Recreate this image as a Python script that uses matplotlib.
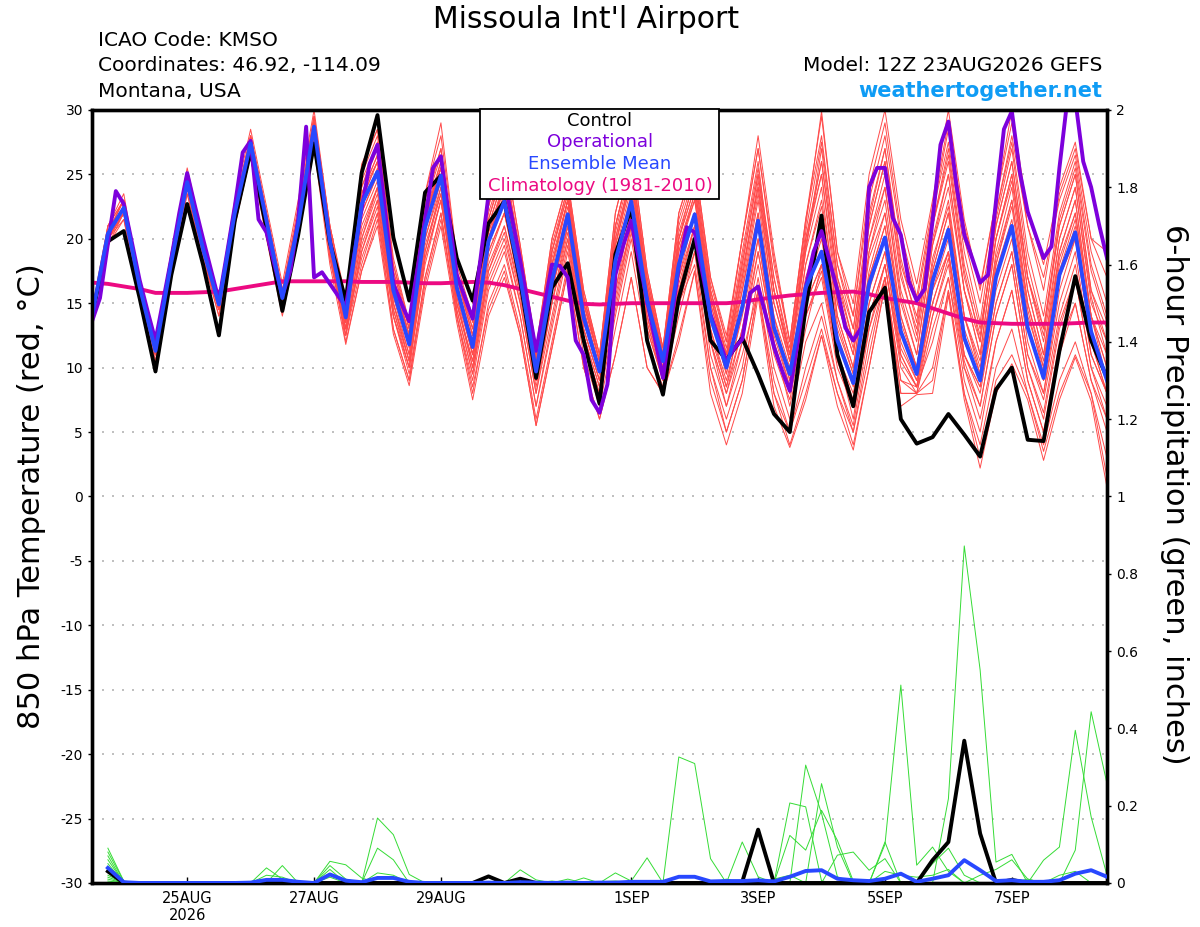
import matplotlib
matplotlib.use("Agg")
import matplotlib.pyplot as plt
from matplotlib.patches import Rectangle
import numpy as np

plt.rcParams['font.family'] = ['DejaVu Sans']
plt.rcParams['axes.unicode_minus'] = False

# forecast hours from 12Z 23AUG2026 (6-hourly for GEFS, 3-hourly for operational)
hours = np.arange(0, 385, 6)
op_hours = np.arange(0, 385, 3)

tick_hours = [36, 84, 132, 204, 252, 300, 348]
tick_labels = ['25AUG\n2026', '27AUG', '29AUG', '1SEP', '3SEP', '5SEP', '7SEP']

# 850 hPa temperature (C)
ens_mean = [14.0, 20.4, 22.4, 16.3, 11.3, 18.2, 24.4, 19.2, 14.9, 22.0, 27.4, 21.4, 15.4,
            21.1, 28.7, 19.8, 13.9, 22.7, 25.2, 16.0, 11.8, 20.9, 24.9, 16.2, 11.6,
            19.8, 22.9, 17.0, 9.7, 16.7, 21.9, 13.9, 9.7, 18.3, 22.9, 15.2, 10.5,
            18.0, 21.9, 13.9, 10.0, 14.7, 21.4, 13.1, 9.5, 16.2, 19.0, 12.1, 8.8,
            16.5, 20.1, 12.8, 9.5, 16.7, 20.7, 12.3, 9.0, 17.0, 21.0, 13.1, 9.2, 17.2, 20.5, 12.8, 9.0]

control = [14.0, 19.8, 20.6, 15.4, 9.7, 17.2, 22.7, 18.0, 12.5, 21.4, 26.8, 20.8, 14.4,
           20.3, 27.4, 19.7, 15.2, 25.1, 29.6, 20.1, 15.2, 23.6, 24.9, 18.5, 15.2,
           21.2, 22.9, 16.7, 9.2, 16.2, 18.1, 12.1, 7.2, 18.8, 22.4, 12.1, 7.9,
           15.4, 20.0, 12.1, 10.6, 12.3, 9.5, 6.4, 5.0, 14.7, 21.8, 11.0, 7.0,
           14.3, 16.2, 6.0, 4.1, 4.6, 6.4, 4.8, 3.1, 8.3, 10.0, 4.4, 4.3, 11.3, 17.1, 12.1, 9.2]

operational = [13.6, 15.4, 19.6, 23.7, 22.7, 19.8, 16.8, 14.4, 12.1, 15.3, 18.5, 22.0, 25.1,
               22.5, 20.0, 17.6, 15.2, 18.8, 22.5, 26.7, 27.6, 21.5, 20.5, 18.0, 15.6,
               17.5, 21.5, 28.7, 17.0, 17.4, 16.5, 15.6, 14.7, 18.5, 22.3, 25.8, 27.3,
               21.9, 16.5, 15.0, 13.6, 17.5, 21.5, 25.5, 26.4, 21.8, 17.2, 15.5, 13.8,
               18.5, 23.4, 24.5, 24.5, 21.5, 18.3, 14.8, 11.3, 14.6, 18.0, 17.9, 17.0,
               12.1, 11.0, 7.5, 6.5, 8.7, 17.2, 19.5, 21.4, 18.3, 15.2, 12.2, 9.2,
               13.5, 17.8, 20.9, 20.5, 17.3, 14.1, 12.3, 10.5, 11.5, 12.2, 15.8, 16.3,
               14.0, 11.6, 9.8, 8.2, 12.0, 16.2, 19.0, 20.6, 18.3, 16.0, 13.1, 12.1,
               13.1, 24.0, 25.5, 25.5, 21.6, 20.3, 16.7, 15.2, 16.1, 21.4, 27.3, 29.1,
               24.2, 20.3, 18.5, 16.6, 17.2, 22.9, 28.5, 29.9, 25.2, 22.1, 20.3, 18.5,
               19.4, 25.5, 30.8, 30.8, 26.0, 24.0, 21.1, 18.5]

climatology = [16.6, 16.5, 16.3, 16.1, 15.8, 15.8, 15.8, 15.85, 15.9, 16.1, 16.3, 16.5, 16.7,
               16.7, 16.7, 16.7, 16.7, 16.65, 16.65, 16.65, 16.6, 16.55, 16.55, 16.6, 16.65,
               16.6, 16.4, 16.1, 15.8, 15.5, 15.2, 14.95, 14.9, 14.95, 15.0, 15.0, 15.0,
               15.0, 15.0, 15.0, 15.0, 15.1, 15.3, 15.45, 15.6, 15.7, 15.8, 15.85, 15.9,
               15.7, 15.4, 15.2, 15.0, 14.6, 14.2, 13.8, 13.5, 13.45, 13.4, 13.4, 13.4, 13.4, 13.45, 13.5, 13.5]

temp_members = [
    [14, 20, 22, 16, 11, 18, 24, 19, 15, 22, 27, 21, 15,
     21, 28.5, 20, 14, 23, 26, 16.5, 12, 21, 25, 16.5, 12,
     20, 23.5, 17.5, 10, 17, 22.5, 14.5, 10, 19, 24, 16, 11,
     19, 23, 14.5, 10.5, 16, 23, 14, 10, 17, 21, 13, 9.5,
     17, 21, 13, 10, 17.5, 22, 13, 9.5, 18, 22.5, 14, 10, 18, 22, 14, 10],
    [14, 21, 23, 16.5, 11.5, 18.5, 25, 19.5, 15.5, 22.5, 28, 22, 16,
     22, 29.5, 21, 15, 25, 28, 18, 13, 23, 27, 18, 14,
     22, 26, 19, 11, 19.5, 24, 15.5, 10.5, 21, 26, 17, 11.5,
     21, 25, 16, 11.5, 19, 26, 16, 11, 20, 25, 15, 11,
     20, 25, 16, 12, 20, 25, 16, 12, 21, 26, 17, 13, 21, 25, 16, 13],
    [13.5, 20, 21.5, 16, 11, 18, 24, 19, 14.5, 21.5, 27, 21, 15,
     20.5, 28, 19, 13, 19, 23, 14, 10, 18, 23, 15, 10,
     17, 20, 15, 8, 14, 20, 12.5, 8.5, 16, 21, 14, 9.5,
     16, 20, 12, 8, 12, 18, 11, 7.5, 14, 17, 10, 7,
     14, 18, 11, 8.5, 15, 19, 11, 8, 15, 19, 11, 7.5, 14, 18, 11, 8],
    [14, 20.5, 23, 17, 12, 18.5, 24.5, 19.5, 15, 22, 27.5, 21.5, 15.5,
     21.5, 29, 20.5, 14.5, 24, 27, 17, 12.5, 22, 26, 17, 12.5,
     21, 25, 18, 10.5, 18, 23, 15, 10.5, 20, 25, 16, 11,
     20, 24, 15.5, 11, 17, 24, 15, 10.5, 19, 27, 17, 13,
     22, 27, 18, 14, 21, 27, 18, 13, 20, 25, 16, 11, 19, 23, 14, 11],
    [14, 19.5, 22, 15.5, 10.5, 17.5, 23.5, 18.5, 14, 21, 26.5, 20.5, 14.5,
     20, 27.5, 18.5, 12.5, 18, 22, 13, 9, 17, 22, 14, 8,
     15, 18, 13, 6, 12, 18, 11, 7, 13, 19, 12, 8.5,
     14, 19, 10, 6, 10, 17, 10, 6, 12, 15, 9, 5,
     12, 17, 9, 8, 13, 17, 10, 6, 12, 16, 9, 5, 11, 15, 9, 6],
    [14.5, 21, 23.5, 16.5, 12, 19, 25.5, 20, 15.5, 23, 28.5, 22.5, 16.5,
     23, 30, 21, 15.4, 25.5, 28.5, 18.5, 13.5, 23.5, 28, 18.5, 15,
     22.5, 27, 19.5, 11.5, 20, 24.5, 16, 11, 22, 27, 17.5, 11.5,
     22, 26, 17, 12, 20, 28, 19, 12, 21.5, 29.5, 19, 15,
     25, 30, 21.5, 16.5, 23, 30, 21.5, 16, 23, 30, 22, 18, 24, 27.5, 20, 19],
    [14, 20.5, 22.5, 16.5, 11.5, 18, 24.5, 19, 15, 22, 27.5, 21.5, 15.5,
     21, 29, 20, 14, 22, 25, 16, 12, 21, 25, 16, 11,
     20, 23, 17, 10, 17, 22, 14, 10, 18, 23, 15.5, 10.5,
     18, 22, 14, 10, 15, 22, 13, 9.5, 16, 19, 12, 8.5,
     16, 20, 12, 9, 16, 20, 12, 9, 17, 21, 13, 9, 17, 20, 12, 8],
    [13.5, 20, 22, 16, 11, 18, 24, 19, 14.5, 22, 27, 21, 15,
     20, 28, 19, 12, 17.5, 21, 12.6, 8.6, 16, 21, 13.5, 7.5,
     14, 17, 12.5, 5.5, 11.5, 17.5, 10, 6, 11, 17, 10, 8,
     12, 17.5, 8, 4, 8, 15.5, 7, 3.8, 7.5, 12.5, 7, 3.6,
     10, 16.3, 7, 7.9, 8, 15.6, 7.5, 2.2, 8, 10.3, 7.5, 2.8, 7.5, 10.8, 7.4, 0.7],
    [14, 20, 22.5, 16, 11, 18.5, 24, 19.5, 15, 22.5, 27.5, 21, 15.5,
     22, 28.5, 20.5, 14.5, 24, 27.5, 17.5, 13, 22.5, 26.5, 17.5, 13.5,
     21.5, 26, 18.5, 11, 19, 24, 15.5, 11, 21, 26, 16.5, 11,
     20, 25, 16, 11, 18, 25, 16, 11, 19, 24, 14, 10,
     19, 23, 14, 10, 18, 23, 14, 9.5, 19, 24, 15, 10, 19, 23, 14, 9],
    [14, 20.5, 22, 16, 11, 18, 24.5, 19, 14.5, 22, 27, 21.5, 15,
     20.5, 28, 19.5, 13, 20, 24, 15, 10.5, 19, 24, 15.5, 10,
     18, 21, 16, 9, 15, 21, 13, 9, 15, 21, 13, 9,
     15, 19, 12, 8, 13, 19, 12, 8, 15, 18, 11, 7.5,
     15, 19, 11, 8.5, 16, 19, 11, 8.5, 16, 20, 12, 8, 16, 20, 12, 8],
    [14, 20.5, 22.5, 16.5, 11.5, 18.5, 24.5, 19, 15, 22, 27.5, 21.5, 15.5,
     21, 29, 20, 14, 23, 26, 16.5, 12, 21.5, 25.5, 16.5, 12,
     20.5, 24, 17.5, 10.5, 18, 23, 15, 10.5, 20, 25, 16.5, 11,
     20, 24, 16, 11, 18, 25, 17, 11.5, 20.5, 27.5, 18, 14,
     23, 28, 20, 15, 22, 28.5, 20, 15, 22, 28, 21, 17, 23, 26.5, 19, 15],
    [14, 20, 22, 16, 11, 18, 24, 19, 15, 22, 27, 21, 15,
     20.5, 28, 19, 13.5, 21, 24, 15, 11, 20, 24, 16, 11,
     19, 22, 16.5, 9, 16, 21, 13, 9, 17, 22, 14.5, 10,
     16, 21, 12, 7, 11, 16, 9, 5, 9, 13, 8, 5,
     11, 17, 8, 8, 10, 16, 8, 4, 10, 13, 8, 4, 9, 12, 8, 3],
    [13.5, 19.5, 21.5, 15.5, 10.5, 17.5, 23.5, 18.5, 14, 21, 26.5, 20, 14,
     20, 27, 18, 11.8, 17.5, 21.5, 13, 9, 16.5, 21.5, 14, 9,
     16, 19, 14, 7, 13, 19, 12, 7.5, 14, 20, 13, 9,
     15, 20, 11, 7, 12, 19, 12, 7, 13, 18, 11, 6,
     14, 18, 10, 8, 14, 18, 10, 7, 14, 18, 10, 6, 13, 17, 10, 6],
    [14, 20.5, 23, 16.5, 11.5, 18.5, 25, 19.5, 15.5, 22.5, 28, 22, 16,
     21.5, 29.5, 20.5, 14.5, 23.5, 26.5, 17, 12.5, 22, 25.5, 17, 12.5,
     20, 24.5, 18, 10.5, 18.5, 23, 15, 10.5, 19.5, 25, 16, 11,
     19.5, 23, 15, 10.5, 16.5, 23.5, 15, 10.5, 18, 22.5, 14, 10,
     18.5, 22, 14, 10, 18.5, 22.5, 14, 10.5, 18.5, 23, 15, 10.5, 18.5, 22, 14, 10],
    [14, 20, 22, 16, 11, 18, 24, 19, 14.5, 21.5, 27, 20.5, 14.5,
     20.5, 27.5, 18.5, 12.5, 19, 22.5, 14, 10, 18.5, 23, 14.5, 9.5,
     17.5, 20.5, 15, 8, 15, 20, 12, 8, 16, 22, 14, 9.5,
     17, 22, 14, 9.5, 16, 22, 14, 9, 18, 23, 15, 11,
     19, 24, 15.5, 11, 19.5, 24, 16, 11, 20, 25, 17, 12, 20, 24, 15.5, 11],
    [14, 20, 22.5, 16, 11, 18, 24, 19, 14.5, 22, 27, 21, 15,
     21, 28, 19.5, 13, 18.5, 22, 14, 9.5, 17, 22, 14, 8.5,
     14.5, 17.5, 12.5, 5.5, 11.5, 17.5, 10, 6, 11, 17, 10, 8,
     12.5, 17.5, 9, 5, 9, 16, 8, 5, 10, 14, 9, 5.5,
     13, 17, 9, 8.5, 12, 17, 9, 5, 12, 16, 9, 5, 12, 15, 9, 5],
    [14.5, 21, 23, 17, 12, 19, 25, 20, 15.5, 22.5, 28, 22, 16,
     22.5, 29.5, 21, 15, 25.8, 28.5, 18, 13.5, 23.5, 29, 18.5, 15.2,
     22.5, 27, 19.5, 11.5, 20, 24.5, 16, 11, 22, 27, 17.5, 11.5,
     22, 26, 17, 12.5, 20, 27, 18, 12, 21.5, 28, 18, 13,
     21, 26, 17, 13, 21, 26, 17, 12.5, 21, 26, 17, 12.5, 21, 25, 16, 12],
    [14, 20, 22, 16, 11, 18, 24, 19, 15, 22, 27, 21, 15,
     20.5, 28.5, 19.5, 13.5, 21.5, 24.5, 15.5, 11, 20, 24.5, 15.5, 11,
     19, 22, 16.5, 9.5, 16, 21.5, 13.5, 9.5, 17.5, 22.5, 15, 10,
     17, 21, 13, 9, 14, 20, 12.5, 8.5, 15, 18, 11, 8,
     15, 19, 11.5, 9, 15, 19, 11, 8.5, 15, 19, 11, 8, 15, 19, 11, 8],
    [14, 20.5, 22.5, 16.5, 11.5, 18.5, 24.5, 19.5, 15, 22, 27.5, 21.5, 15.5,
     21.5, 29, 20, 14.5, 23.5, 26.5, 17, 12.5, 21.5, 26, 17, 13,
     21, 25, 18, 11, 19, 23.5, 15.5, 10.5, 21, 26, 17, 11,
     21.5, 25.5, 16.5, 12, 20, 27, 18.5, 12, 21, 29.9, 19, 14,
     24, 29, 20.5, 15.5, 22.5, 29, 21, 16.3, 23, 29, 21, 16, 23.5, 27, 20, 17],
    [14, 20, 22, 16, 11, 17.5, 24, 18.5, 14.5, 21.5, 27, 21, 15,
     21, 28, 19.5, 13.5, 20.5, 24, 15, 10.5, 19.5, 23.5, 15, 10.5,
     18.5, 22, 16, 9, 16, 21, 13, 9, 17, 22, 14, 9.5,
     15, 18, 10, 5, 9, 16, 8, 4, 8, 12.5, 8, 4,
     10, 16.5, 8, 8, 9, 16, 8, 3, 9, 11, 8, 3.5, 8, 11, 8, 1.5],
    [14, 20.5, 22.5, 16, 11.5, 18, 24.5, 19, 15, 22, 27.5, 21, 15.5,
     21, 28.5, 20, 14, 22.5, 25.5, 16.5, 12, 21.5, 25.5, 17, 12.5,
     20.5, 24.5, 18, 10.5, 18, 23, 14.5, 10, 19.5, 24.5, 16, 10.5,
     19, 23.5, 15, 10.5, 17, 24.5, 16, 10.5, 19.5, 25, 16, 11.5,
     20, 24, 15, 11, 19.5, 25, 16, 11, 20, 24.5, 16, 11, 20, 24, 15, 12],
    [14, 20, 22, 15.5, 11, 18, 24, 18.5, 14.5, 21.5, 27, 20.5, 15,
     20.5, 28, 19, 13, 20, 23.5, 14.5, 10.5, 19, 23.5, 15, 10.5,
     17.5, 21, 15.5, 8.5, 15, 20.5, 12.5, 8.5, 15.5, 21, 13.5, 9.5,
     16, 20, 12.5, 8.5, 13, 20, 12, 8, 14, 17.5, 10.5, 7,
     13, 18, 10.5, 8.5, 14, 18.5, 10.5, 7, 14, 18, 10, 6.5, 13.5, 17, 10, 7],
    [14, 20.5, 23, 16.5, 11.5, 18.5, 24.5, 19.5, 15, 22.5, 27.5, 21.5, 15.5,
     21.5, 29, 20.5, 14.5, 24.5, 27.5, 17.5, 13, 22.5, 27, 17.5, 13,
     21.5, 25.5, 18.5, 11, 19, 23.5, 15, 10.5, 20.5, 25.5, 16.5, 11,
     20.5, 24.5, 15.5, 11, 18.5, 25.5, 17, 11, 20, 26, 16.5, 12,
     21, 26, 17.5, 12.5, 21, 26.5, 17.5, 12, 21.5, 27, 18, 13, 21.5, 25.5, 17.5, 13.5],
    [14, 20.5, 22.5, 16.5, 11, 18.5, 24.5, 19, 15, 22, 27.5, 21.5, 15.5,
     21, 28.5, 19.5, 14, 22, 25, 16, 11.5, 20.5, 25, 16, 11.5,
     19.5, 23, 17, 9.5, 16.5, 22, 14, 9.5, 18.5, 23.5, 15, 10.5,
     18, 22, 14, 9.5, 15, 21.5, 13, 9, 16, 20, 12.5, 9,
     17, 21, 13, 9.5, 17, 21, 12.5, 9, 17.5, 21.5, 13, 9, 17, 21, 13, 9],
    [13.5, 20, 22, 16, 11, 18, 24, 19, 14.5, 21.5, 27, 21, 15,
     20.5, 28, 19, 12.5, 19.5, 23, 14.5, 10, 18.5, 23, 14.5, 9.5,
     16.5, 19.5, 14, 7, 13.5, 19.5, 12, 8, 14.5, 20.5, 13.5, 9,
     16.5, 21, 13, 8.5, 14.5, 21, 13, 8.5, 16.5, 21.5, 13.5, 9.5,
     17.5, 22, 13.5, 10, 17.5, 22, 14, 10, 18, 23, 14.5, 9.5, 17.5, 21.5, 13, 9],
    [14, 20, 22.5, 16.5, 11.5, 18, 24.5, 19.5, 15, 22, 27.5, 21.5, 15.5,
     21.5, 28.5, 20, 14, 23.5, 26, 16.5, 12.5, 21.5, 25.5, 16.5, 12,
     20, 24, 17.5, 10, 17.5, 23, 14.5, 10, 19.5, 24.5, 16, 10.5,
     19.5, 23.5, 15.5, 10.5, 17.5, 24, 16, 11, 19.5, 26, 17, 12,
     21.5, 27, 18.5, 13.5, 22, 27.5, 19, 13.5, 22, 27.5, 19, 14, 22, 26, 18, 14],
]

# 6-hour precipitation (inches), forecast hours 6..384
precip_mean = [0.039, 0.002, 0, 0, 0, 0, 0, 0, 0, 0.001, 0.008, 0.008, 0.003, 0, 0.022, 0.006,
               0.002, 0.013, 0.013, 0.003, 0, 0, 0, 0, 0.001, 0, 0.002, 0.001, 0, 0.001, 0, 0.001,
               0.001, 0.003, 0.003, 0.003, 0.016, 0.016, 0.004, 0.005, 0.005, 0.007, 0.004, 0.016, 0.031, 0.033,
               0.011, 0.007, 0.005, 0.011, 0.024, 0.003, 0.011, 0.020, 0.059, 0.033, 0.005, 0.007, 0.003, 0.003,
               0.007, 0.024, 0.033, 0.016]

precip_control = [0.03, 0, 0, 0, 0, 0, 0, 0, 0, 0, 0, 0, 0, 0, 0, 0,
                  0, 0, 0, 0, 0, 0, 0, 0, 0.017, 0, 0.011, 0, 0, 0, 0, 0,
                  0, 0, 0, 0, 0, 0, 0, 0, 0.003, 0.138, 0, 0, 0, 0, 0, 0,
                  0, 0, 0, 0, 0.059, 0.106, 0.368, 0.128, 0, 0.008, 0, 0, 0, 0, 0, 0]

precip_members = [
    [0.09, 0.005, 0, 0, 0, 0, 0, 0, 0, 0, 0, 0, 0, 0, 0, 0,
     0, 0.168, 0.125, 0.022, 0, 0, 0, 0, 0, 0, 0, 0, 0, 0, 0, 0,
     0, 0, 0, 0, 0, 0, 0, 0, 0, 0, 0, 0, 0, 0, 0, 0,
     0, 0, 0, 0, 0, 0.218, 0.872, 0.551, 0.054, 0.074, 0, 0, 0, 0, 0, 0],
    [0.08, 0.004, 0, 0, 0, 0, 0, 0, 0, 0, 0, 0, 0, 0, 0.056, 0.047,
     0.013, 0, 0, 0, 0, 0, 0, 0, 0, 0, 0, 0, 0, 0, 0, 0,
     0, 0, 0, 0, 0, 0, 0, 0, 0, 0, 0, 0, 0, 0, 0, 0,
     0, 0.10, 0.512, 0.046, 0.093, 0.03, 0, 0, 0, 0, 0, 0, 0, 0, 0, 0],
    [0.07, 0, 0, 0, 0, 0, 0, 0, 0, 0, 0, 0, 0, 0, 0, 0,
     0, 0.09, 0.06, 0, 0, 0, 0, 0, 0, 0, 0, 0, 0, 0, 0, 0,
     0, 0, 0, 0, 0.326, 0.309, 0.063, 0, 0, 0, 0, 0, 0, 0, 0, 0,
     0, 0, 0, 0, 0, 0, 0, 0, 0, 0, 0, 0, 0, 0, 0, 0],
    [0.06, 0, 0, 0, 0, 0, 0, 0, 0, 0, 0.039, 0.01, 0, 0, 0, 0,
     0, 0, 0, 0, 0, 0, 0, 0, 0, 0, 0, 0, 0, 0, 0, 0,
     0, 0, 0, 0, 0, 0, 0, 0, 0, 0, 0, 0.207, 0.197, 0.005, 0, 0,
     0, 0, 0, 0, 0, 0, 0, 0, 0, 0, 0, 0, 0, 0, 0, 0],
    [0.05, 0, 0, 0, 0, 0, 0, 0, 0, 0, 0, 0.045, 0, 0, 0, 0,
     0, 0, 0, 0, 0, 0, 0, 0, 0, 0, 0, 0, 0, 0, 0, 0,
     0, 0, 0, 0, 0, 0, 0, 0, 0, 0, 0, 0, 0.305, 0.18, 0.016, 0,
     0, 0, 0, 0, 0, 0, 0, 0, 0, 0, 0, 0, 0, 0, 0, 0],
    [0.04, 0, 0, 0, 0, 0, 0, 0, 0, 0, 0, 0, 0, 0, 0.045, 0.01,
     0, 0, 0, 0, 0, 0, 0, 0, 0, 0, 0, 0, 0, 0, 0, 0,
     0, 0, 0, 0, 0, 0, 0, 0, 0, 0, 0, 0, 0, 0.257, 0.093, 0,
     0, 0, 0, 0, 0, 0, 0, 0, 0, 0, 0, 0, 0, 0, 0, 0],
    [0.035, 0, 0, 0, 0, 0, 0, 0, 0, 0, 0, 0, 0, 0, 0.035, 0,
     0, 0, 0, 0, 0, 0, 0, 0, 0, 0, 0.034, 0.008, 0, 0, 0, 0,
     0, 0, 0, 0, 0, 0, 0, 0, 0, 0, 0, 0.123, 0.085, 0.188, 0.11, 0.005,
     0, 0, 0, 0, 0, 0, 0, 0, 0, 0, 0, 0, 0, 0, 0, 0],
    [0.03, 0, 0, 0, 0, 0, 0, 0, 0, 0, 0, 0, 0, 0, 0.025, 0,
     0, 0, 0, 0, 0, 0, 0, 0, 0, 0, 0, 0, 0, 0, 0, 0,
     0, 0, 0, 0, 0, 0, 0, 0, 0, 0, 0, 0, 0, 0, 0.072, 0.08,
     0.033, 0.063, 0, 0, 0, 0, 0, 0, 0, 0, 0, 0, 0, 0, 0, 0],
    [0.02, 0, 0, 0, 0, 0, 0, 0, 0, 0, 0, 0, 0, 0, 0, 0,
     0, 0, 0, 0, 0, 0, 0, 0, 0, 0, 0, 0, 0, 0, 0, 0,
     0, 0, 0, 0, 0, 0, 0, 0, 0.106, 0.016, 0, 0, 0, 0, 0, 0,
     0, 0.106, 0, 0, 0, 0, 0, 0, 0, 0, 0, 0, 0, 0, 0, 0],
    [0.015, 0, 0, 0, 0, 0, 0, 0, 0, 0, 0, 0, 0, 0, 0, 0,
     0, 0, 0, 0, 0, 0, 0, 0, 0, 0, 0, 0, 0, 0, 0, 0,
     0.026, 0.005, 0.065, 0, 0, 0, 0, 0, 0, 0, 0, 0, 0, 0, 0, 0,
     0, 0, 0, 0, 0.05, 0.09, 0.02, 0, 0, 0, 0, 0, 0, 0, 0, 0],
    [0.01, 0, 0, 0, 0, 0, 0, 0, 0, 0, 0, 0, 0, 0, 0, 0,
     0, 0.026, 0.02, 0, 0, 0, 0, 0, 0, 0, 0, 0, 0, 0, 0.013, 0,
     0, 0, 0, 0, 0, 0, 0, 0, 0, 0, 0, 0, 0, 0, 0, 0,
     0, 0, 0, 0, 0, 0, 0, 0, 0, 0, 0, 0, 0, 0.085, 0.443, 0.257],
    [0.005, 0, 0, 0, 0, 0, 0, 0, 0, 0, 0, 0, 0, 0, 0, 0,
     0, 0, 0, 0, 0, 0, 0, 0, 0, 0, 0, 0, 0, 0, 0, 0,
     0, 0, 0, 0, 0, 0, 0, 0, 0, 0, 0, 0, 0, 0, 0, 0,
     0, 0, 0, 0, 0, 0, 0, 0, 0, 0, 0, 0.059, 0.093, 0.395, 0.171, 0.02],
    [0, 0, 0, 0, 0, 0, 0, 0, 0, 0, 0.02, 0.015, 0, 0, 0.015, 0,
     0, 0, 0, 0, 0, 0, 0, 0, 0, 0, 0, 0, 0, 0.01, 0, 0,
     0, 0, 0, 0, 0, 0, 0, 0, 0, 0, 0.01, 0.02, 0, 0, 0, 0,
     0, 0, 0, 0, 0, 0, 0, 0.02, 0.035, 0.06, 0.01, 0, 0, 0, 0, 0],
    [0, 0, 0, 0, 0, 0, 0, 0, 0, 0, 0, 0, 0, 0, 0, 0,
     0, 0, 0, 0, 0, 0, 0, 0, 0, 0, 0, 0, 0.005, 0, 0, 0.003,
     0.005, 0, 0, 0.004, 0, 0, 0, 0.01, 0, 0, 0, 0, 0, 0, 0, 0,
     0, 0.03, 0.02, 0.015, 0.02, 0.035, 0, 0, 0, 0, 0.01, 0, 0.02, 0.03, 0, 0],
]

precip_ticks = [0, 0.2, 0.4, 0.6, 0.8, 1.0, 1.2, 1.4, 1.6, 1.8, 2.0]
precip_ticklabels = ['0', '0.2', '0.4', '0.6', '0.8', '1', '1.2', '1.4', '1.6', '1.8', '2']

fig = plt.figure(figsize=(12, 9.27), dpi=100)
ax = fig.add_axes([0.0767, 0.0475, 0.8458, 0.8339])
ax2 = ax.twinx()

for v in range(-25, 30, 5):
    ax.axhline(v, color='#b4b4b4', lw=1.2, ls=(0, (1.2, 4.8)), zorder=1)

for m in temp_members:
    ax.plot(hours, m, color='#ff4a4a', lw=0.7, zorder=2)
ax.plot(hours, climatology, color='#ec0a82', lw=2.8, zorder=4)
ax.plot(hours, control, color='black', lw=2.8, zorder=5)
ax.plot(op_hours, operational, color='#7d00dc', lw=2.8, zorder=6)
ax.plot(hours, ens_mean, color='#2848ff', lw=2.8, zorder=7)

for p in precip_members:
    ax2.plot(hours[1:], p, color='#35dc35', lw=0.7, zorder=2)
ax2.plot(hours[1:], precip_control, color='black', lw=2.8, zorder=5)
ax2.plot(hours[1:], precip_mean, color='#2848ff', lw=2.8, zorder=7)

ax.set_xlim(0, 384)
ax.set_ylim(-30, 30)
ax2.set_ylim(0, 2)

ax.set_yticks(range(-30, 31, 5))
ax.set_xticks(tick_hours)
ax.set_xticklabels(tick_labels)
ax2.set_yticks(precip_ticks)
ax2.set_yticklabels(precip_ticklabels)

ax.tick_params(axis='x', direction='in', length=4, width=1, pad=5.5, labelsize=10.5)
ax.tick_params(axis='y', direction='out', length=3, width=1, pad=3.5, labelsize=10)
ax2.tick_params(axis='y', direction='out', length=3, width=1, pad=3.5, labelsize=10)

for a in (ax, ax2):
    for s in a.spines.values():
        s.set_linewidth(2.4)

fig.text(0.026, 0.4644, '850 hPa Temperature (red, \u00b0C)', rotation=90,
         ha='center', va='center', fontsize=22)
fig.text(0.979, 0.4666, '6-hour Precipitation (green, inches)', rotation=270,
         ha='center', va='center', fontsize=22)

fig.text(0.488, 0.9693, "Missoula Int'l Airport", ha='center', va='baseline', fontsize=21.5)
fig.text(0.0817, 0.9507, 'ICAO Code: KMSO', ha='left', va='baseline', fontsize=14.5)
fig.text(0.0817, 0.9234, 'Coordinates: 46.92, -114.09', ha='left', va='baseline', fontsize=14.5)
fig.text(0.0817, 0.8954, 'Montana, USA', ha='left', va='baseline', fontsize=14.5)
fig.text(0.9183, 0.9234, 'Model: 12Z 23AUG2026 GEFS', ha='right', va='baseline', fontsize=14.5)
fig.text(0.9183, 0.8954, 'weathertogether.net', ha='right', va='baseline', fontsize=15,
         fontweight='bold', color='#0f9cf5')

# legend box
box = Rectangle((0.4, 0.7853), 0.199, 0.0971, transform=fig.transFigure,
                facecolor='white', edgecolor='black', lw=1.3, zorder=10)
fig.add_artist(box)
legend_items = [('Control', 'black', 0.8698), ('Operational', '#7d00dc', 0.8465),
                ('Ensemble Mean', '#2848ff', 0.8231), ('Climatology (1981-2010)', '#ec0a82', 0.7994)]
for label, col, yy in legend_items:
    fig.text(0.5, yy, label, ha='center', va='center', fontsize=13, color=col, zorder=11)

fig.savefig('out.png', dpi=100)
